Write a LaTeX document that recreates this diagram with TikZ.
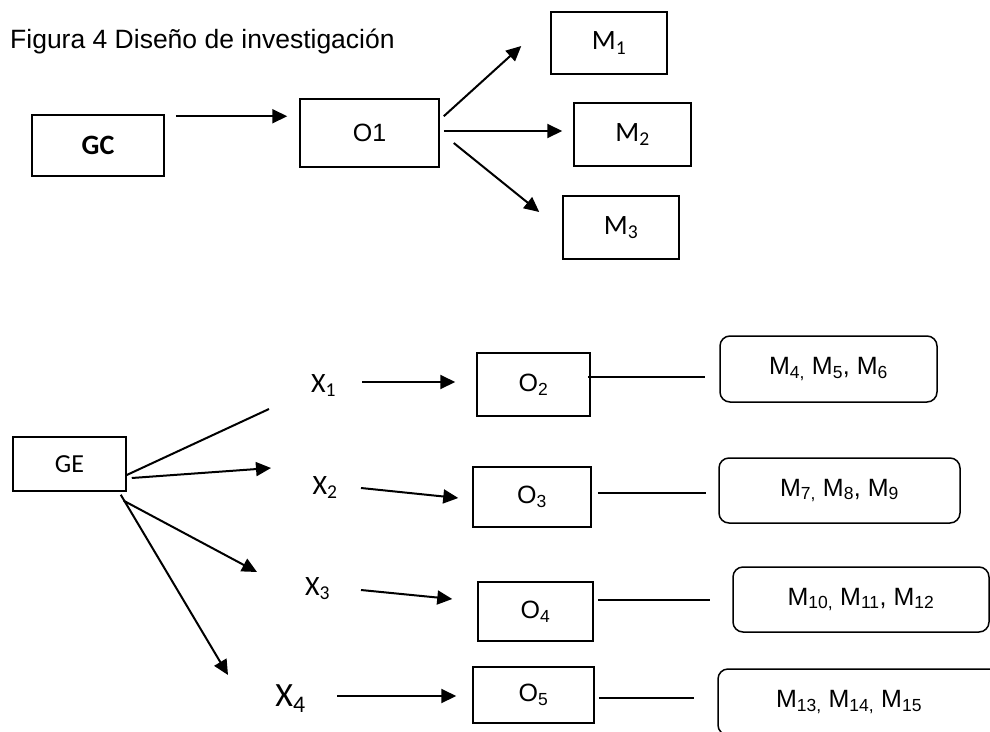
\documentclass[tikz,border=0pt]{standalone}
\usepackage{fontspec}
\setmainfont{Liberation Sans}
\newfontfamily\cali{Carlito}
\usetikzlibrary{calc,arrows.meta}
\tikzset{
  ar/.style={-{Triangle[length=15pt,width=14pt]},line width=2pt},
  ln/.style={line width=1.5pt},
  box/.style={draw,line width=1.5pt,inner sep=0pt},
  rbox/.style={box,rounded corners=10pt},
  cal/.style={font=\cali\fontsize{28}{32}\selectfont},
  xlab/.style={cal,anchor=base,inner sep=0pt}
}

\begin{document}
\begin{tikzpicture}[x=1pt,y=-1pt,font=\fontsize{25}{28}\selectfont]
\path[use as bounding box] (0,0) rectangle (990,731);
\clip (0,0) rectangle (990,731);
\node[anchor=base west,inner sep=0pt,font=\fontsize{26.5}{30}\selectfont] (title) at (10,48) {Figura 4 Diseño de investigación};

% control group
\node[box,cal,minimum width=132,minimum height=61] (GC) at (98,145.5) {\bfseries GC};
\node[box,minimum width=139,minimum height=68] (O1) at (369.5,133) {O1};
\node[box,cal,minimum width=116,minimum height=62] (M1) at (609,43) {M\textsubscript{1}};
\node[box,cal,minimum width=117,minimum height=63] (M2) at (632.5,134.5) {M\textsubscript{2}};
\node[box,cal,minimum width=116,minimum height=63] (M3) at (621,227.5) {M\textsubscript{3}};
\draw[ar] ($(GC.north east)+(11,2)$) -- ($(O1.north west)+(-12,18)$);
\draw[ar] ($(O1.north east)+(4,18)$) -- ($(M1.west)+(-29,3)$);
\draw[ar] ($(O1.east)+(4,-2)$) -- ($(M2.west)+(-11,-3.5)$);
\draw[ar] ($(O1.east)+(14,10)$) -- ($(M3.west)+(-23,-15.5)$);

% experimental group
\node[box,minimum width=113,minimum height=54,font=\cali\fontsize{26}{30}\selectfont] (GE) at (69.5,464) {GE};
\node[xlab] (X1) at (323.5,392) {X\textsubscript{1}};
\node[xlab] (X2) at (325,494) {X\textsubscript{2}};
\node[xlab] (X3) at (317.5,595) {X\textsubscript{3}};
\node[xlab,font=\cali\fontsize{34}{38}\selectfont] (X4) at (290.5,706) {X\textsubscript{4}};
\node[box,minimum width=113,minimum height=63] (O2) at (533.5,384.5) {O\textsubscript{2}};
\node[box,minimum width=118,minimum height=60] (O3) at (532,497) {O\textsubscript{3}};
\node[box,minimum width=115,minimum height=59] (O4) at (535.5,611.5) {O\textsubscript{4}};
\node[box,minimum width=121,minimum height=56] (O5) at (533.5,695) {O\textsubscript{5}};
\node[rbox,minimum width=217,minimum height=66] (R1) at (828.5,369) {M\textsubscript{4,} M\textsubscript{5}, M\textsubscript{6}};
\node[rbox,minimum width=241,minimum height=65] (R2) at (839.5,490.5) {M\textsubscript{7,} M\textsubscript{8}, M\textsubscript{9}};
\node[rbox,minimum width=256,minimum height=65] (R3) at (861,599.5) {M\textsubscript{10,} M\textsubscript{11}, M\textsubscript{12}};
\node[rbox,minimum width=282,minimum height=66] (R4) at (859,702) {M\textsubscript{13,} M\textsubscript{14,} M\textsubscript{15}\hspace*{20pt}};

\draw[ar,-] ($(GE.east)+(0,11)$) -- ($(X1.base)+(-54.5,17)$);
\draw[ar] ($(GE.east)+(5,14)$) -- ($(X2.base)+(-54,-26)$);
\draw[ar] ($(GE.south east)+(-3,9)$) -- ($(X3.base)+(-60.5,-23)$);
\draw[ar] ($(GE.south east)+(-6,3)$) -- ($(X4.base)+(-62.5,-31)$);

\draw[ar] ($(X1.base)+(38.5,-10)$) -- ($(O2.west)+(-21,-2.5)$);
\draw[ar] ($(X2.base)+(36,-6)$) -- ($(O3.west)+(-14,1)$);
\draw[ar] ($(X3.base)+(43.5,-5)$) -- ($(O4.west)+(-25,-12.5)$);
\draw[ar] ($(X4.base)+(46.5,-10)$) -- ($(O5.west)+(-16,1)$);

\draw[ln] ($(O2.east)+(-3,-7.5)$) -- ($(R1.west)+(-14,8)$);
\draw[ln] ($(O3.east)+(6,-4)$) -- ($(R2.west)+(-12,2.5)$);
\draw[ln] ($(O4.east)+(4,-11.5)$) -- ($(R3.west)+(-22,0.5)$);
\draw[ln] ($(O5.east)+(4,3)$) -- ($(R4.west)+(-23,-4)$);
\end{tikzpicture}
\end{document}
